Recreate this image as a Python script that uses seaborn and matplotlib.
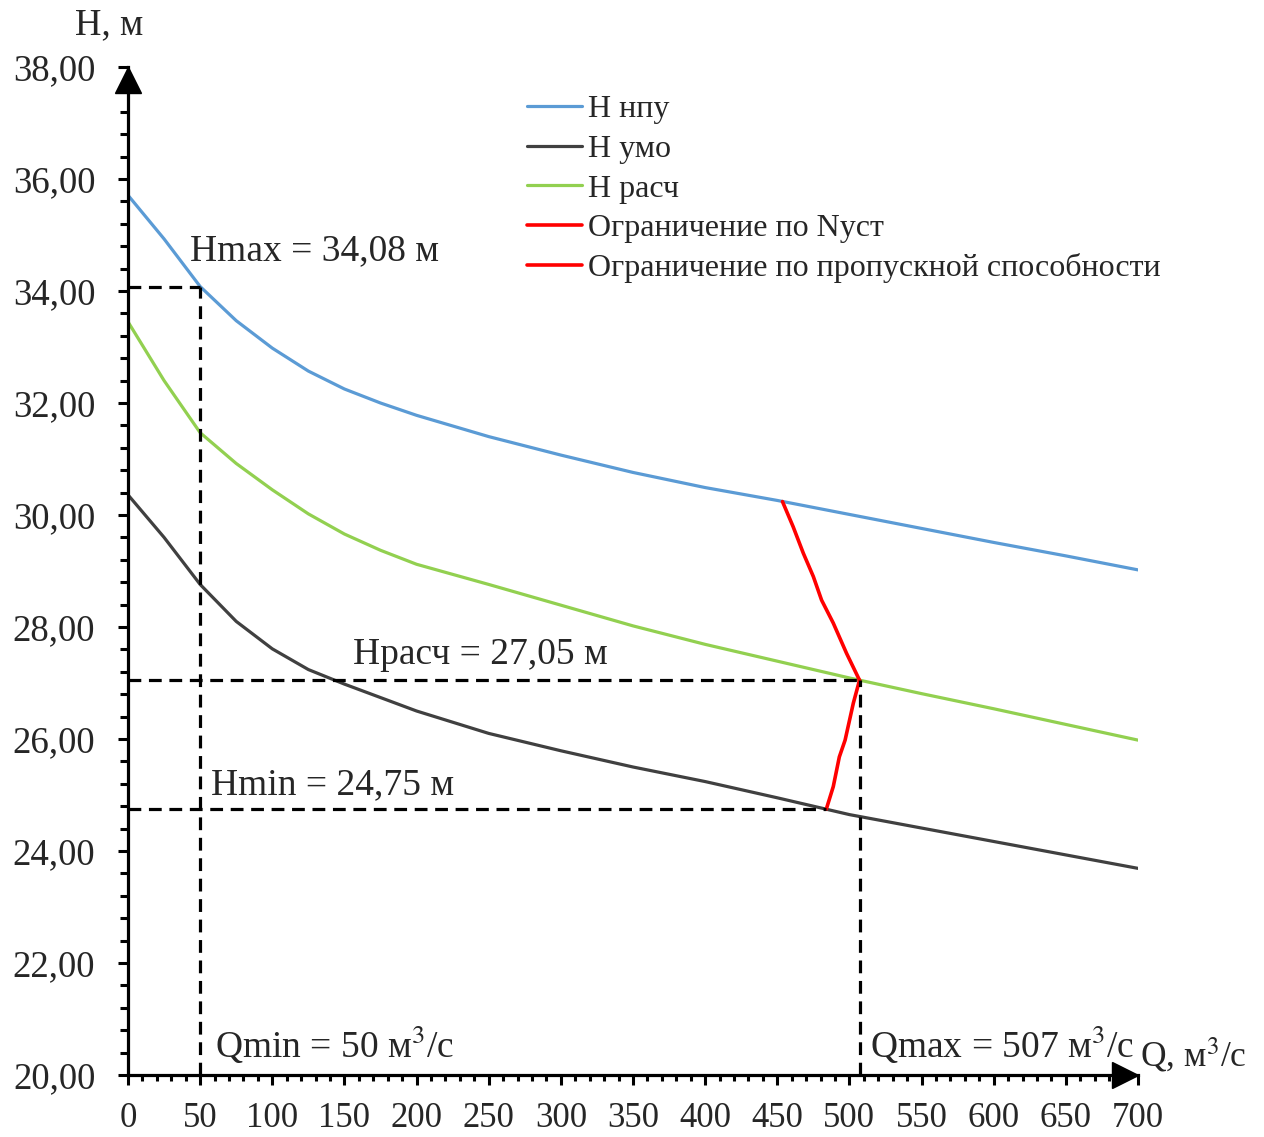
import numpy as np
import pandas as pd
import matplotlib
matplotlib.use('Agg')
import matplotlib.pyplot as plt
import matplotlib.transforms as mtransforms
from matplotlib.ticker import MultipleLocator, FuncFormatter
import seaborn as sns

# ---- data ----
Q = [0, 25, 50, 75, 100, 125, 150, 175, 200, 250, 300, 350, 400, 450, 500, 550, 600, 650, 700]
H_npu = [35.71, 34.93, 34.08, 33.47, 32.98, 32.57, 32.25, 32.00, 31.78, 31.40, 31.07, 30.76,
         30.49, 30.26, 30.01, 29.76, 29.51, 29.27, 29.02]
H_umo = [30.36, 29.60, 28.76, 28.10, 27.61, 27.24, 26.98, 26.74, 26.50, 26.10, 25.79, 25.50,
         25.24, 24.95, 24.65, 24.41, 24.17, 23.93, 23.69]
H_rasch = [33.45, 32.40, 31.47, 30.92, 30.45, 30.02, 29.66, 29.37, 29.12, 28.76, 28.39, 28.02,
           27.69, 27.39, 27.09, 26.81, 26.54, 26.26, 25.98]

Q_nust = [453.6, 461, 468, 475, 480.7, 488.8, 498, 507]
H_nust = [30.24, 29.79, 29.32, 28.90, 28.48, 28.07, 27.53, 27.05]
Q_prop = [507, 502.7, 497, 493, 488.8, 484]
H_prop = [27.05, 26.64, 25.98, 25.68, 25.15, 24.75]

Q_min, Q_max, Q_hmin = 50, 507, 484
H_max, H_rasch_val, H_min = 34.08, 27.05, 24.75

labels = ["Н нпу", "Н умо", "Н расч", "Ограничение по Nуст",
          "Ограничение по пропускной способности"]
colors = ["#5B9BD5", "#404040", "#92D050", "#FF0000", "#FF0000"]

x_ticks = list(range(0, 701, 50))
y_ticks = [20, 22, 24, 26, 28, 30, 32, 34, 36, 38]

# ---- style ----
sns.set_theme(style="white")
plt.rcParams['font.family'] = ['Liberation Serif', 'DejaVu Serif']
plt.rcParams['mathtext.fontset'] = 'stix'

fig = plt.figure(figsize=(12.64, 11.37), dpi=100)
ax = fig.add_axes([128/1264, 1 - 1075/1137, (1138-128)/1264, (1075-67)/1137])

curves = pd.DataFrame({"Q": Q * 3,
                       "H": H_npu + H_umo + H_rasch,
                       "s": [labels[0]]*len(Q) + [labels[1]]*len(Q) + [labels[2]]*len(Q)})
for i in range(3):
    sub = curves[curves["s"] == labels[i]]
    sns.lineplot(data=sub, x="Q", y="H", ax=ax, color=colors[i], linewidth=2.3,
                 estimator=None, sort=False, label=labels[i], zorder=2)
sns.lineplot(x=Q_nust, y=H_nust, ax=ax, color=colors[3], linewidth=2.6,
             estimator=None, sort=False, label=labels[3], zorder=2)
sns.lineplot(x=Q_prop, y=H_prop, ax=ax, color=colors[4], linewidth=2.6,
             estimator=None, sort=False, label=labels[4], zorder=2)

# dashed reference lines
dash = dict(color="black", linewidth=2.3, linestyle=(0, (4, 2.4)), zorder=3, clip_on=False)
ax.plot([0, Q_min], [H_max, H_max], **dash)
ax.plot([Q_min, Q_min], [20, H_max], **dash)
ax.plot([0, Q_max], [H_rasch_val, H_rasch_val], **dash)
ax.plot([Q_max, Q_max], [20, H_rasch_val], **dash)
ax.plot([0, Q_hmin], [H_min, H_min], **dash)

ax.set_xlim(0, 700)
ax.set_ylim(20, 38)
ax.set_xlabel("")
ax.set_ylabel("")

ax.xaxis.set_minor_locator(MultipleLocator(10))
ax.yaxis.set_minor_locator(MultipleLocator(0.4))
ax.set_xticks(x_ticks)
ax.set_yticks(y_ticks)
ax.yaxis.set_major_formatter(FuncFormatter(lambda v, p: f"{v:.2f}".replace(".", ",")))

for s in ["top", "right"]:
    ax.spines[s].set_visible(False)
for s in ["left", "bottom"]:
    ax.spines[s].set_linewidth(2.3)
    ax.spines[s].set_color("black")

ax.tick_params(axis="both", which="both", direction="out", color="black", width=2.2)
ax.tick_params(axis="x", which="major", length=7.5, pad=12, labelsize=25)
ax.tick_params(axis="x", which="minor", length=4.5)
ax.tick_params(axis="y", which="major", length=7.5, pad=16, labelsize=26.5)
ax.tick_params(axis="y", which="minor", length=6)
ax.tick_params(left=True, bottom=True, which="both")

# axis arrows
up = mtransforms.offset_copy(ax.transAxes, fig=fig, y=-13, units='dots')
rt = mtransforms.offset_copy(ax.transAxes, fig=fig, x=-13, units='dots')
ax.plot([0], [1], marker="^", markersize=19, color="black", transform=up, clip_on=False, zorder=5)
ax.plot([1], [0], marker=">", markersize=19, color="black", transform=rt, clip_on=False, zorder=5)

# annotations
fs = 27
ax.text(-36.7, 38.75, "Н, м", fontsize=26.5, va="center", ha="left", clip_on=False)
ax.text(43, 34.71, "Hmax = 34,08 м", fontsize=fs, va="center", ha="left")
ax.text(156, 27.5, "Hрасч = 27,05 м", fontsize=fs, va="center", ha="left")
ax.text(57.5, 25.18, "Hmin = 24,75 м", fontsize=fs, va="center", ha="left")
ax.text(60.3, 20.54, "Qmin = 50 м$^3$/с", fontsize=fs, va="center", ha="left")
ax.text(514, 20.54, "Qmax = 507 м$^3$/с", fontsize=fs, va="center", ha="left")
ax.text(701.3, 20.36, "Q, м$^3$/с", fontsize=25.5, va="center", ha="left", clip_on=False)

# legend
handles, labs = ax.get_legend_handles_labels()
leg = ax.legend(handles, labs, loc="upper left", bbox_to_anchor=(527/1264, 1 - 95/1137),
                bbox_transform=fig.transFigure, frameon=False, fontsize=23,
                handlelength=1.72, handletextpad=0.2, labelspacing=0.32,
                borderpad=0, borderaxespad=0)

fig.savefig("out.png", dpi=100)
